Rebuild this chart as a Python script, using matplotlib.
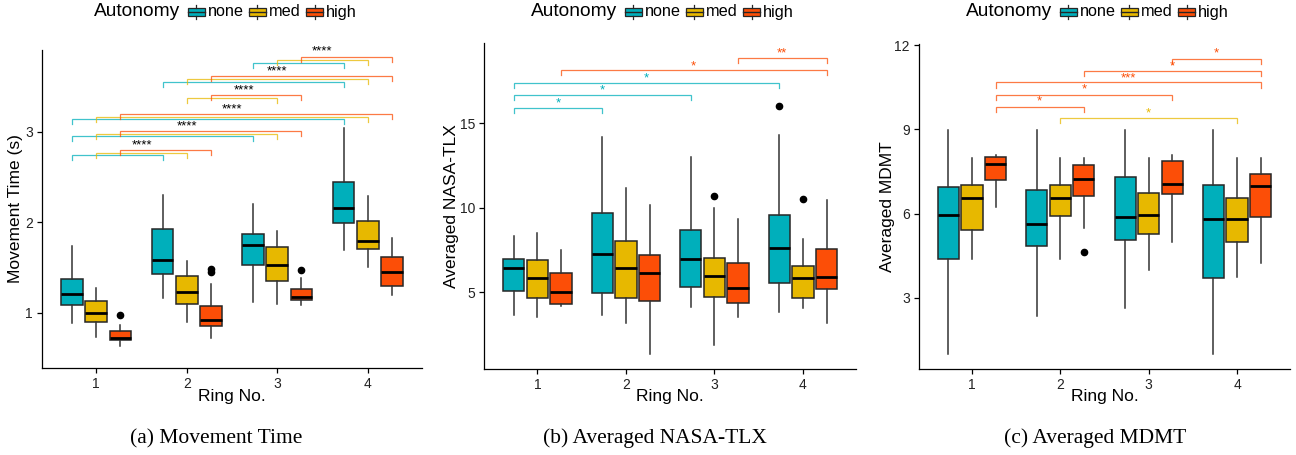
import matplotlib
matplotlib.use("Agg")
import matplotlib.pyplot as plt
from matplotlib.patches import Rectangle
from matplotlib.lines import Line2D

plt.rcParams["font.family"] = ["Liberation Sans", "DejaVu Sans"]

RINGS = [1, 2, 3, 4]
LEVELS = ["none", "med", "high"]
COLORS = {"none": "#00AFBB", "med": "#E7B800", "high": "#FC4E07"}

# box stats per ring: (whisker low, q1, median, q3, whisker high)
MT_NONE = [(0.89, 1.085, 1.21, 1.376, 1.74), (1.16, 1.43, 1.58, 1.93, 2.30),
           (1.12, 1.53, 1.755, 1.87, 2.20), (1.69, 1.99, 2.157, 2.45, 3.04)]
MT_MED = [(0.73, 0.90, 1.00, 1.13, 1.27), (0.90, 1.10, 1.23, 1.405, 1.57),
          (1.10, 1.35, 1.53, 1.73, 1.91), (1.505, 1.71, 1.795, 2.01, 2.29)]
MT_HIGH = [(0.635, 0.70, 0.72, 0.80, 0.87), (0.72, 0.85, 0.92, 1.08, 1.32),
           (1.09, 1.14, 1.18, 1.26, 1.38), (1.20, 1.30, 1.456, 1.615, 1.83)]
MT_FLIERS = {("high", 1): [0.975], ("high", 2): [1.49, 1.45], ("high", 3): [1.475]}

TLX_NONE = [(3.67, 5.06, 6.42, 6.97, 8.33), (3.67, 4.96, 7.27, 9.67, 14.19),
            (4.15, 5.33, 6.99, 8.70, 13.0), (3.85, 5.53, 7.60, 9.56, 14.33)]
TLX_MED = [(3.52, 4.64, 5.86, 6.91, 8.51), (3.17, 4.64, 6.42, 8.04, 11.15),
           (1.86, 4.70, 5.96, 7.05, 9.97), (4.05, 4.68, 5.86, 6.54, 8.14)]
TLX_HIGH = [(4.19, 4.33, 5.02, 6.12, 7.49), (1.35, 4.50, 6.16, 7.22, 10.17),
            (3.52, 4.35, 5.25, 6.72, 9.32), (3.20, 5.20, 5.92, 7.58, 10.48)]
TLX_FLIERS = {("med", 3): [10.70], ("none", 4): [16.02], ("med", 4): [10.50]}

MDMT_NONE = [(1.01, 4.40, 5.94, 6.93, 8.99), (2.37, 4.86, 5.63, 6.83, 8.99),
             (2.63, 5.05, 5.87, 7.32, 8.99), (1.01, 3.71, 5.80, 7.03, 8.99)]
MDMT_MED = [(4.38, 5.43, 6.55, 7.03, 7.99), (4.38, 5.93, 6.55, 7.03, 7.99),
            (4.00, 5.29, 5.94, 6.75, 7.99), (3.75, 4.99, 5.80, 6.55, 7.99)]
MDMT_HIGH = [(6.25, 7.21, 7.75, 8.00, 8.10), (5.50, 6.63, 7.25, 7.74, 7.99),
             (4.99, 6.69, 7.05, 7.88, 8.10), (4.24, 5.87, 6.98, 7.40, 7.99)]
MDMT_FLIERS = {("high", 2): [4.62]}

# significance brackets: (ring a, ring b, level, y)
MT_BRACKETS = [
    (3, 4, "none", 3.759), (3, 4, "med", 3.792), (3, 4, "high", 3.832),
    (2, 4, "none", 3.549), (2, 4, "med", 3.582), (2, 4, "high", 3.619),
    (2, 3, "med", 3.372), (2, 3, "high", 3.412),
    (1, 4, "none", 3.147), (1, 4, "med", 3.169), (1, 4, "high", 3.202),
    (1, 3, "none", 2.959), (1, 3, "med", 2.978), (1, 3, "high", 3.014),
    (1, 2, "none", 2.749), (1, 2, "med", 2.768), (1, 2, "high", 2.804),
]
# labels: (ring a, ring b, level or None, text, y)
MT_LABELS = [(3, 4, None, "****", 3.895), (2, 4, None, "****", 3.666),
             (2, 3, None, "****", 3.464), (1, 4, None, "****", 3.254),
             (1, 3, None, "****", 3.059), (1, 2, None, "****", 2.849)]

TLX_BRACKETS = [(3, 4, "high", 18.86), (1, 4, "high", 18.14), (1, 4, "none", 17.40),
                (1, 3, "none", 16.66), (1, 2, "none", 15.92)]
TLX_LABELS = [(3, 4, "high", "**", 19.14), (1, 4, "high", "*", 18.39),
              (1, 4, "none", "*", 17.64), (1, 3, "none", "*", 16.93),
              (1, 2, "none", "*", 16.18)]

MDMT_BRACKETS = [(3, 4, "high", 11.51), (2, 4, "high", 11.09), (1, 4, "high", 10.67),
                 (1, 3, "high", 10.24), (1, 2, "high", 9.81), (2, 4, "med", 9.40)]
MDMT_LABELS = [(3, 4, "high", "*", 11.69), (2, 4, "high", "*", 11.24),
               (1, 4, "high", "***", 10.80), (1, 3, "high", "*", 10.41),
               (1, 2, "high", "*", 9.98), (2, 4, "med", "*", 9.55)]

DODGE = {"none": -0.8 / 3, "med": 0.0, "high": 0.8 / 3}
BOX_W = 0.8 / 3 * 0.9

W, H = 1296, 455


def px_axes(left, top, right, bottom):
    return [left / W, 1 - bottom / H, (right - left) / W, (bottom - top) / H]


def draw_boxes(ax, series, fliers):
    for level, rows in zip(LEVELS, series):
        stats = []
        for ring, (lo, q1, med, q3, hi) in zip(RINGS, rows):
            stats.append(dict(whislo=lo, q1=q1, med=med, q3=q3, whishi=hi,
                              fliers=fliers.get((level, ring), [])))
        ax.bxp(stats, positions=[r + DODGE[level] for r in RINGS], widths=BOX_W,
               patch_artist=True, showcaps=False, manage_ticks=False,
               boxprops=dict(facecolor=COLORS[level], edgecolor="#262626", linewidth=1.1),
               medianprops=dict(color="black", linewidth=2.0, solid_capstyle="butt"),
               whiskerprops=dict(color="#333333", linewidth=1.1),
               flierprops=dict(marker="o", markerfacecolor="black",
                               markeredgecolor="black", markersize=4.5))


def draw_brackets(ax, brackets, labels, tip, label_size=9.5):
    for a, b, level, y in brackets:
        x0, x1 = a + DODGE[level], b + DODGE[level]
        ax.plot([x0, x0, x1, x1], [y - tip, y, y, y - tip], color=COLORS[level],
                alpha=0.75, linewidth=0.9, solid_joinstyle="miter")
    for a, b, level, text, y in labels:
        if level is None:
            xs = [x for ra, rb, lv, _ in brackets if (ra, rb) == (a, b)
                  for x in (ra + DODGE[lv], rb + DODGE[lv])]
            color = "black"
        else:
            xs = [a + DODGE[level], b + DODGE[level]]
            color = COLORS[level]
        ax.text((min(xs) + max(xs)) / 2, y, text, ha="center", va="center",
                fontsize=label_size, color=color)


def style_axes(ax, ylim, yticks, ylabel, xlabel_y, ylabel_x):
    ax.set_xlim(0.4, 4.6)
    ax.set_ylim(*ylim)
    ax.set_xticks(RINGS)
    ax.set_xticklabels([str(r) for r in RINGS])
    ax.set_yticks(yticks)
    for s in ("top", "right"):
        ax.spines[s].set_visible(False)
    for s in ("left", "bottom"):
        ax.spines[s].set_linewidth(0.9)
    ax.tick_params(length=3.5, width=0.9, labelsize=10, colors="black",
                   labelcolor="#222222", pad=3)
    ax.set_xlabel("Ring No.", fontsize=12.5)
    ax.set_ylabel(ylabel, fontsize=12.5)
    ax.xaxis.set_label_coords(0.5, xlabel_y)
    ax.yaxis.set_label_coords(ylabel_x, 0.5)


def draw_legend(fig, x0, yc=12):
    fig.text(x0 / W, 1 - yc / H, "Autonomy", fontsize=13.8, ha="left", va="center")
    keys = [(94, 114), (155, 174.7), (212.3, 232.3)]
    for level, (kx, tx) in zip(LEVELS, keys):
        bx = (x0 + kx) / W
        bw, bh = 16.5 / W, 8.7 / H
        by = 1 - (yc + 4.35) / H
        fig.add_artist(Rectangle((bx, by), bw, bh, transform=fig.transFigure,
                                 facecolor=COLORS[level], edgecolor="#262626", linewidth=0.9))
        fig.add_artist(Line2D([bx, bx + bw], [1 - yc / H] * 2, transform=fig.transFigure,
                              color="#262626", linewidth=1.0))
        cx = bx + bw / 2
        fig.add_artist(Line2D([cx, cx], [by + bh, by + bh + 2.3 / H], transform=fig.transFigure,
                              color="#262626", linewidth=0.9))
        fig.add_artist(Line2D([cx, cx], [by, by - 2.3 / H], transform=fig.transFigure,
                              color="#262626", linewidth=0.9))
        fig.text((x0 + tx) / W, 1 - yc / H, level, fontsize=11.7, ha="left", va="center")


fig = plt.figure(figsize=(W / 100, H / 100), dpi=100)

ax_a = fig.add_axes(px_axes(42, 50, 422, 368))
draw_boxes(ax_a, [MT_NONE, MT_MED, MT_HIGH], MT_FLIERS)
style_axes(ax_a, (0.39, 3.906), [1, 2, 3], "Movement Time (s)", -0.066, -0.05)
draw_brackets(ax_a, MT_BRACKETS, MT_LABELS, tip=0.055)

ax_b = fig.add_axes(px_axes(484.3, 43.3, 856, 369))
draw_boxes(ax_b, [TLX_NONE, TLX_MED, TLX_HIGH], TLX_FLIERS)
style_axes(ax_b, (0.46, 19.73), [5, 10, 15], "Averaged NASA-TLX", -0.062, -0.068)
draw_brackets(ax_b, TLX_BRACKETS, TLX_LABELS, tip=0.3)

ax_c = fig.add_axes(px_axes(919, 44.3, 1290, 369))
draw_boxes(ax_c, [MDMT_NONE, MDMT_MED, MDMT_HIGH], MDMT_FLIERS)
style_axes(ax_c, (0.465, 12.03), [3, 6, 9, 12], "Averaged MDMT", -0.062, -0.066)
draw_brackets(ax_c, MDMT_BRACKETS, MDMT_LABELS, tip=0.18)

draw_legend(fig, 94)
draw_legend(fig, 531)
draw_legend(fig, 966)

captions = ["(a) Movement Time", "(b) Averaged NASA-TLX", "(c) Averaged MDMT"]
for cx, cap in zip([216, 655, 1095], captions):
    fig.text(cx / W, 1 - 443 / H, cap, fontsize=15.5, ha="center", va="baseline",
             family=["Liberation Serif", "DejaVu Serif"])

fig.savefig("out.png", dpi=100)
